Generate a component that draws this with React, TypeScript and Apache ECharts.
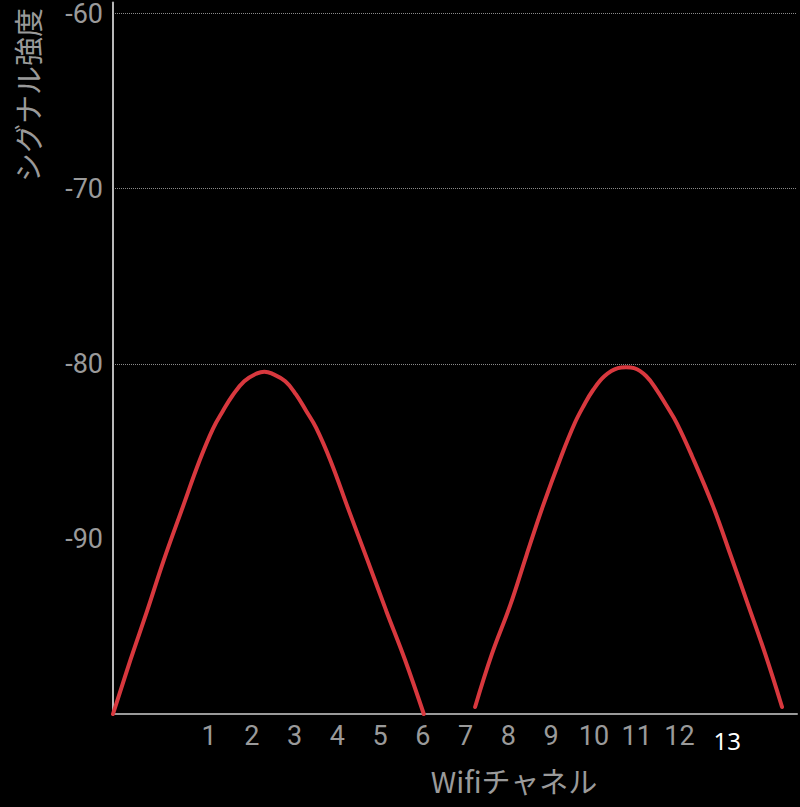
import * as echarts from 'echarts';
import React, { useEffect, useRef } from 'react';

// channel axis ticks shown under the plot
const channelLabels = [1, 2, 3, 4, 5, 6, 7, 8, 9, 10, 11, 12, 13];

// signal strength (dBm) labels on the left
const yTicks = [-90, -80, -70, -60];

// network 1: [channel position, dBm]
const network1 = [
  [-1.25, -100], [-0.84, -96.9], [-0.45, -94.1], [-0.06, -91.2], [0.35, -88.4],
  [0.78, -85.5], [1.09, -83.7], [1.32, -82.7], [1.55, -81.8], [1.82, -81.0],
  [2.12, -80.55], [2.29, -80.45], [2.46, -80.55], [2.78, -81.0], [3.03, -81.75],
  [3.27, -82.7], [3.5, -83.65], [3.84, -85.55], [4.27, -88.4], [4.7, -91.2],
  [5.14, -94.1], [5.58, -96.9], [6.02, -100],
];

// network 2: [channel position, dBm]
const network2 = [
  [7.22, -99.6], [7.61, -96.6], [8.04, -93.8], [8.42, -90.95], [8.81, -88.1],
  [9.24, -85.25], [9.55, -83.4], [9.76, -82.4], [9.98, -81.5], [10.25, -80.7],
  [10.56, -80.25], [10.75, -80.2], [10.94, -80.25], [11.22, -80.7], [11.47, -81.5],
  [11.7, -82.4], [11.94, -83.4], [12.29, -85.25], [12.78, -88.1], [13.2, -90.95],
  [13.61, -93.8], [14.01, -96.6], [14.4, -99.6],
];

const App: React.FC = () => {
  const chartRef = useRef<HTMLDivElement>(null);

  useEffect(() => {
    const myChart = echarts.init(chartRef.current!, null, { renderer: 'svg' });

    const lineStyle = { width: 4, color: '#d8383e', cap: 'round' as const };

    const option = {
      animation: false,
      backgroundColor: '#000',
      grid: { left: 113, right: 0, top: 0, bottom: 93 },
      xAxis: {
        type: 'value',
        min: -1.25,
        max: 14.75,
        interval: 0.25,
        axisLine: { show: true, onZero: false, lineStyle: { color: '#9a9a9a', width: 2 } },
        axisTick: { show: false },
        splitLine: { show: false },
        axisLabel: {
          margin: 8,
          color: '#9a9a9a',
          fontSize: 27,
          fontFamily: 'Roboto',
          formatter: (v: number) => {
            const n = Math.round(v);
            if (Math.abs(v - n) > 1e-6 || !channelLabels.includes(n)) return '';
            return n === 13 ? '{w|13}' : String(n);
          },
          rich: {
            w: {
              color: '#ffffff',
              fontSize: 24,
              fontFamily: 'Noto Sans',
              padding: [6, 0, 0, 10],
            },
          },
        },
      },
      yAxis: {
        type: 'value',
        min: -100,
        max: -59.374,
        interval: 10,
        axisLine: { show: true, onZero: false, lineStyle: { color: '#b8b8b8', width: 2 } },
        axisTick: { show: false },
        axisLabel: {
          margin: 10,
          color: '#9a9a9a',
          fontSize: 27,
          fontFamily: 'Roboto',
          formatter: (v: number) =>
            Math.abs(v - Math.round(v)) < 1e-6 && yTicks.includes(Math.round(v)) ? String(v) : '',
        },
        splitLine: {
          show: true,
          showMaxLine: false,
          lineStyle: {
            type: 'dotted',
            width: 1,
            color: ['rgba(0,0,0,0)', 'rgba(0,0,0,0)', '#8a8a8a', '#8a8a8a', '#8a8a8a', 'rgba(0,0,0,0)'],
          },
        },
      },
      graphic: [
        {
          type: 'text',
          x: 27,
          y: 95,
          rotation: Math.PI / 2,
          style: {
            text: 'シグナル強度',
            fill: '#9a9a9a',
            fontSize: 29,
            fontFamily: 'Noto Sans CJK JP',
            textAlign: 'center',
            textVerticalAlign: 'middle',
          },
        },
        {
          type: 'text',
          x: 514,
          y: 780,
          style: {
            text: 'Wifiチャネル',
            fill: '#9a9a9a',
            fontSize: 29,
            fontFamily: 'Noto Sans CJK JP',
            textAlign: 'center',
            textVerticalAlign: 'middle',
          },
        },
      ],
      series: [
        {
          type: 'line',
          data: network1,
          smooth: 0.4,
          showSymbol: false,
          lineStyle,
        },
        {
          type: 'line',
          data: network2,
          smooth: 0.4,
          showSymbol: false,
          lineStyle,
        },
      ],
    };

    myChart.setOption(option);

    return () => {
      myChart.dispose();
    };
  }, []);

  return (
    <div
      ref={chartRef}
      style={{ position: 'fixed', left: 0, top: 0, width: '800px', height: '807px' }}
    />
  );
};

export default App;
